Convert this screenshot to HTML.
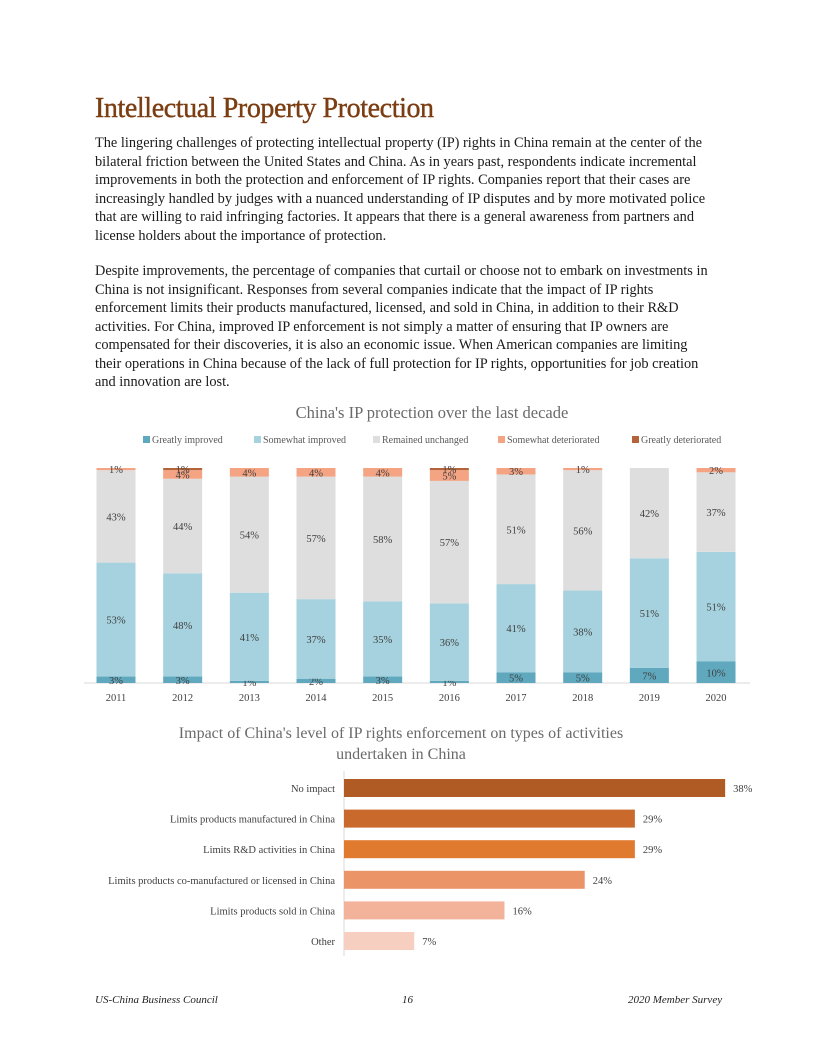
<!DOCTYPE html>
<html><head><meta charset="utf-8">
<style>
body{margin:0;background:#fff;}
#page{position:relative;width:816px;height:1056px;background:#fff;font-family:"Liberation Serif",serif;color:#222;overflow:hidden;}
h1{position:absolute;left:95px;top:93px;margin:0;font-size:28px;font-weight:normal;color:#7b3d12;letter-spacing:-0.4px;-webkit-text-stroke:0.4px #7b3d12;}
.p{position:absolute;left:95px;font-size:14.35px;line-height:18.5px;white-space:nowrap;color:#1a1a1a;}
.foot{position:absolute;top:994px;font-size:11px;font-style:italic;color:#222;}
svg text{font-family:"Liberation Serif",serif;}
</style></head><body>
<div id="page">
<h1>Intellectual Property Protection</h1>
<div class="p" style="top:134px">The lingering challenges of protecting intellectual property (IP) rights in China remain at the center of the<br>bilateral friction between the United States and China. As in years past, respondents indicate incremental<br>improvements in both the protection and enforcement of IP rights. Companies report that their cases are<br>increasingly handled by judges with a nuanced understanding of IP disputes and by more motivated police<br>that are willing to raid infringing factories. It appears that there is a general awareness from partners and<br>license holders about the importance of protection.</div>
<div class="p" style="top:262px">Despite improvements, the percentage of companies that curtail or choose not to embark on investments in<br>China is not insignificant. Responses from several companies indicate that the impact of IP rights<br>enforcement limits their products manufactured, licensed, and sold in China, in addition to their R&amp;D<br>activities. For China, improved IP enforcement is not simply a matter of ensuring that IP owners are<br>compensated for their discoveries, it is also an economic issue. When American companies are limiting<br>their operations in China because of the lack of full protection for IP rights, opportunities for job creation<br>and innovation are lost.</div>

<svg id="c1" width="816" height="720" style="position:absolute;left:0;top:0">
<text x="432" y="418" text-anchor="middle" font-size="16.5" fill="#6a6a6a">China's IP protection over the last decade</text>
<g id="legend"></g>
<line x1="84" y1="683" x2="750" y2="683" stroke="#d9d9d9" stroke-width="1"/>
<g id="bars1"></g>
</svg>

<svg id="c2" width="816" height="1056" style="position:absolute;left:0;top:0;pointer-events:none">
<text x="401" y="738" text-anchor="middle" font-size="16" fill="#6a6a6a">Impact of China's level of IP rights enforcement on types of activities</text>
<text x="401" y="759" text-anchor="middle" font-size="16" fill="#6a6a6a">undertaken in China</text>
<line x1="344" y1="771" x2="344" y2="956" stroke="#d9d9d9"/>
<g id="bars2"></g>
</svg>

<div class="foot" style="left:95px">US-China Business Council</div>
<div class="foot" style="left:402px">16</div>
<div class="foot" style="left:628px">2020 Member Survey</div>
</div>
<script>
const years=["2011","2012","2013","2014","2015","2016","2017","2018","2019","2020"];
const greatlyImproved=[3,3,1,2,3,1,5,5,7,10];
const somewhatImproved=[53,48,41,37,35,36,41,38,51,51];
const remainedUnchanged=[43,44,54,57,58,57,51,56,42,37];
const somewhatDeteriorated=[1,4,4,4,4,5,3,1,0,2];
const greatlyDeteriorated=[0,1,0,0,0,1,0,0,0,0];
const seriesNames=["Greatly improved","Somewhat improved","Remained unchanged","Somewhat deteriorated","Greatly deteriorated"];

const activities=["No impact","Limits products manufactured in China","Limits R&D activities in China","Limits products co-manufactured or licensed in China","Limits products sold in China","Other"];
const activityValues=[38,29,29,24,16,7];

const NS="http://www.w3.org/2000/svg";
function mk(tag,attrs,parent,txt){const e=document.createElementNS(NS,tag);for(const k in attrs)e.setAttribute(k,attrs[k]);if(txt!==undefined)e.textContent=txt;parent.appendChild(e);return e;}

// chart 1
const series=[greatlyImproved,somewhatImproved,remainedUnchanged,somewhatDeteriorated,greatlyDeteriorated];
const colors=["#5fa8bd","#a5d2de","#dedede","#f4a383","#b5643a"];
const keys=["greatly-improved","somewhat-improved","remained-unchanged","somewhat-deteriorated","greatly-deteriorated"];
const x0=116,step=66.67,bw=39,yBase=683,pxPer=2.15;
const xPos=i=>x0+i*step;
const yPos=v=>yBase-v*pxPer;
const g1=document.getElementById('bars1');
years.forEach((yr,i)=>{
  let cum=0;
  series.forEach((s,k)=>{
    const v=s[i];
    if(v>0){
      const r=mk('rect',{x:xPos(i)-bw/2,y:yPos(cum+v),width:bw,height:v*pxPer,fill:colors[k]},g1);
      
      
      const cy=(yPos(cum+v)+yPos(cum))/2+4;
      const t=mk('text',{x:xPos(i),y:cy,'text-anchor':'middle','font-size':10.5,fill:'#404040'},g1,v+'%');
      
      
    }
    cum+=v;
  });
  const t=mk('text',{x:xPos(i),y:701,'text-anchor':'middle','font-size':10.5,fill:'#404040'},g1,yr);
  
  
});
const lg=document.getElementById('legend');
const lx=[143,254,373,498,632];
seriesNames.forEach((n,k)=>{
  const r=mk('rect',{x:lx[k],y:436,width:7,height:7,fill:colors[k]},lg);
  
  
  const t=mk('text',{x:lx[k]+9,y:443,'font-size':10,fill:'#595959'},lg,n);
  
  
});

// chart 2
const colors2=["#b05a24","#c9692b","#e07a2e","#eb9468","#f2b39a","#f7cfc0"];
const g2=document.getElementById('bars2');
const bx=344,pxPer2=10.03,by0=779,bstep=30.6,bh=18;
const xLen=v=>v*pxPer2;
const yRow=i=>by0+i*bstep;
activities.forEach((a,i)=>{
  const r=mk('rect',{x:bx,y:yRow(i),width:xLen(activityValues[i]),height:bh,fill:colors2[i]},g2);
  
  
  const l=mk('text',{x:bx-9,y:yRow(i)+13,'text-anchor':'end','font-size':10.5,fill:'#404040'},g2,a);
  
  
  const v=mk('text',{x:bx+xLen(activityValues[i])+8,y:yRow(i)+13,'font-size':10.5,fill:'#404040'},g2,activityValues[i]+'%');
  
  
});
</script>
</body></html>
